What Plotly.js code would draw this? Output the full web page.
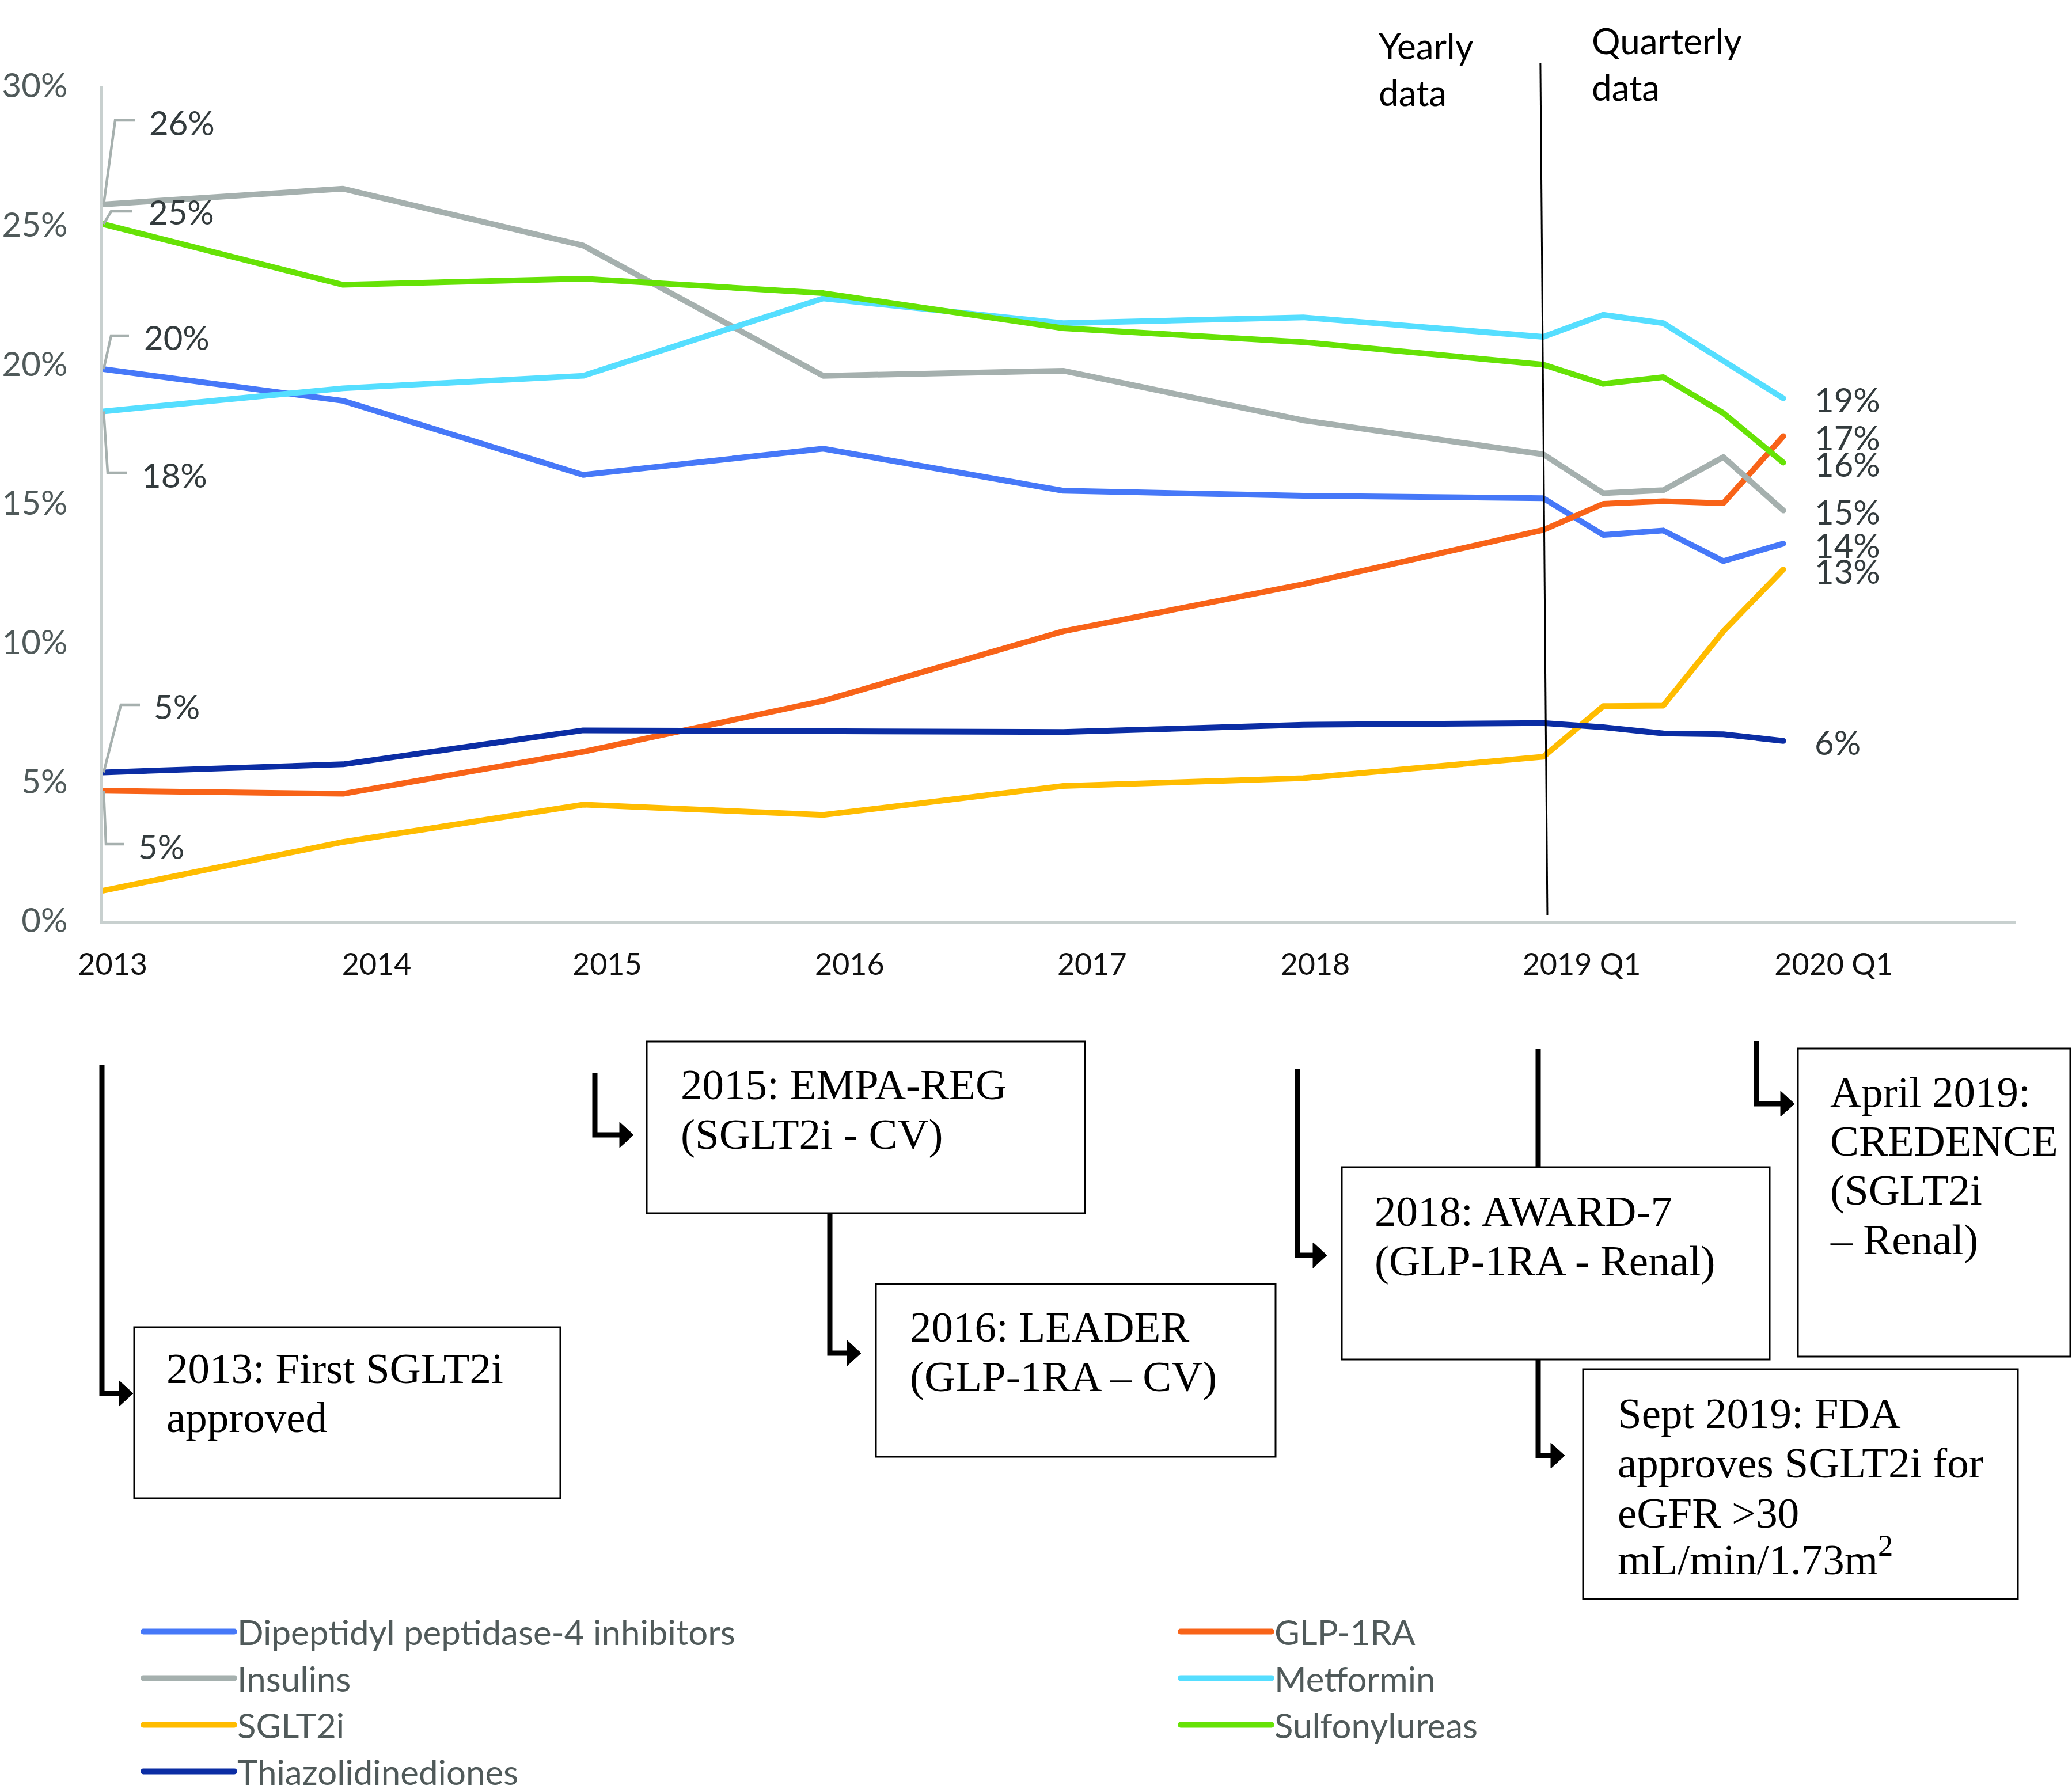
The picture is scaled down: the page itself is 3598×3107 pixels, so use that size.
<!DOCTYPE html>
<html><head><meta charset="utf-8">
<script src="https://cdn.plot.ly/plotly-3.0.1.min.js"></script>
<style>
html,body{margin:0;padding:0;background:#fff}
path.js-line{stroke-linecap:round;stroke-linejoin:round}
.legendlines path{stroke-width:10px !important;stroke-linecap:round}
</style>
</head><body>
<div id="chart" style="width:3598px;height:3107px"></div>
<script>
// ---------------- DATA ----------------
const xValues = [2013, 2014, 2015, 2016, 2017, 2018, 2019, 2019.25, 2019.5, 2019.75, 2020];
const xTickPositions = [2013.04, 2014.14, 2015.10, 2016.11, 2017.12, 2018.05, 2019.16, 2020.21];
const xTickLabels = ['2013', '2014', '2015', '2016', '2017', '2018', '2019 Q1', '2020 Q1'];
const yTickValues = [0, 5, 10, 15, 20, 25, 30];
const yTickLabels = ['0%', '5%', '10%', '15%', '20%', '25%', '30%'];

const dpp4 = [19.82, 18.68, 16.02, 16.96, 15.45, 15.27, 15.18, 13.86, 14.02, 12.92, 13.55];
const glp1ra = [4.67, 4.56, 6.07, 7.90, 10.40, 12.09, 14.04, 14.98, 15.07, 15.00, 17.41];
const insulins = [25.74, 26.30, 24.26, 19.58, 19.76, 17.98, 16.76, 15.36, 15.47, 16.66, 14.74];
const metformin = [18.30, 19.13, 19.58, 22.36, 21.47, 21.68, 20.98, 21.77, 21.47, 20.09, 18.77];
const sglt2i = [1.08, 2.83, 4.17, 3.80, 4.84, 5.12, 5.89, 7.71, 7.73, 10.40, 12.62];
const sulfonylureas = [25.03, 22.85, 23.07, 22.55, 21.29, 20.79, 19.98, 19.29, 19.53, 18.24, 16.46];
const thiazolidinediones = [5.33, 5.62, 6.84, 6.79, 6.78, 7.04, 7.10, 6.95, 6.73, 6.70, 6.46];

const seriesNames = ['Dipeptidyl peptidase-4 inhibitors', 'GLP-1RA', 'Insulins', 'Metformin', 'SGLT2i', 'Sulfonylureas', 'Thiazolidinediones'];
const seriesValues = [dpp4, glp1ra, insulins, metformin, sglt2i, sulfonylureas, thiazolidinediones];
const seriesColors = ['#4678F8', '#F86318', '#A5B0AE', '#55DEFF', '#FFBC00', '#66E206', '#0B2DA4'];
const seriesLegend = ['legend', 'legend2', 'legend', 'legend2', 'legend', 'legend2', 'legend'];

const periodLabels = ['Yearly<br>data', 'Quarterly<br>data'];

const milestoneText = [
  ['2013: First SGLT2i', 'approved'],
  ['2015: EMPA-REG', '(SGLT2i - CV)'],
  ['2016: LEADER', '(GLP-1RA \u2013 CV)'],
  ['2018: AWARD-7', '(GLP-1RA - Renal)'],
  ['April 2019:', 'CREDENCE', '(SGLT2i', '\u2013 Renal)'],
  ['Sept 2019: FDA', 'approves SGLT2i for', 'eGFR >30', 'mL/min/1.73m<sup>2</sup>']
];

// ---------------- GEOMETRY (pixels) ----------------
const W = 3598, H = 3107;
const PL = 179, PT = 149, PR = 3501, PB = 1599;
const PW = PR - PL, PH = PB - PT;
const px = X => (X - PL) / PW;
const py = Y => (PB - Y) / PH;
const Y_RANGE = [0, 30];
const X_RANGE = [2013, 2020.97];
const yPix = v => PB - (v - Y_RANGE[0]) / (Y_RANGE[1] - Y_RANGE[0]) * PH;

const sans = 'Lato, "Open Sans", sans-serif';
const serif = '"Liberation Serif", "Times New Roman", serif';

// traces
const traces = seriesNames.map((name, i) => ({
  type: 'scatter', mode: 'lines', name: name,
  x: xValues, y: seriesValues[i],
  line: {color: seriesColors[i], width: 10},
  legend: seriesLegend[i],
  hoverinfo: 'skip'
}));

const shapes = [];
const annotations = [];

// left-hand value labels with bent leader lines (2013 values)
const leftLabels = [
  {s: 2, bend: [200, 209], end: [234, 209], tx: 257, ty: 212},
  {s: 5, bend: [193, 367], end: [230, 367], tx: 256, ty: 368},
  {s: 0, bend: [193, 583], end: [224, 583], tx: 248, ty: 585},
  {s: 3, bend: [187, 821], end: [220, 821], tx: 244, ty: 824},
  {s: 6, bend: [210, 1224], end: [243, 1224], tx: 265, ty: 1226},
  {s: 1, bend: [184, 1466], end: [215, 1466], tx: 238, ty: 1469}
];
leftLabels.forEach(l => {
  const v = seriesValues[l.s][0];
  const y0 = yPix(v);
  shapes.push({type: 'path', xref: 'paper', yref: 'paper', layer: 'above',
    path: `M${px(180)},${py(y0)} L${px(l.bend[0])},${py(l.bend[1])} L${px(l.end[0])},${py(l.end[1])}`,
    line: {color: '#A6B0AE', width: 4.5}});
  annotations.push({xref: 'paper', yref: 'paper', x: px(l.tx), y: py(l.ty), xanchor: 'left', yanchor: 'middle',
    text: Math.round(v) + '%', showarrow: false, font: {family: sans, size: 58, color: '#333B3D'}});
});

// right-hand end labels
seriesValues.forEach((vals, i) => {
  const v = vals[vals.length - 1];
  annotations.push({xref: 'x', yref: 'y', x: xValues[xValues.length - 1], y: v, xanchor: 'left', yanchor: 'middle',
    xshift: 52, yshift: -2, text: Math.round(v) + '%', showarrow: false, font: {family: sans, size: 58, color: '#333B3D'}});
});

// Yearly / quarterly divider
shapes.push({type: 'line', xref: 'x', yref: 'paper', x0: 2018.988, x1: 2019.017, y0: py(110), y1: py(1589),
  line: {color: '#000', width: 3}, layer: 'above'});
annotations.push({xref: 'paper', yref: 'paper', x: px(2392), y: py(40), xanchor: 'left', yanchor: 'top', align: 'left',
  text: periodLabels[0], showarrow: false, font: {family: sans, size: 62, color: '#000'}});
annotations.push({xref: 'paper', yref: 'paper', x: px(2762), y: py(31), xanchor: 'left', yanchor: 'top', align: 'left',
  text: periodLabels[1], showarrow: false, font: {family: sans, size: 62, color: '#000'}});

// milestone boxes
const boxes = [
  {x0: 233, y0: 2305, x1: 973, y1: 2602, tx: 287, ty: [2376, 2461]},
  {x0: 1123, y0: 1809, x1: 1884, y1: 2107, tx: 1180, ty: [1883, 1969]},
  {x0: 1521, y0: 2230, x1: 2215, y1: 2530, tx: 1578, ty: [2304, 2390]},
  {x0: 2330, y0: 2027, x1: 3073, y1: 2361, tx: 2385, ty: [2103, 2189]},
  {x0: 3122, y0: 1821, x1: 3595, y1: 2356, tx: 3176, ty: [1896, 1981, 2066, 2152]},
  {x0: 2749, y0: 2378, x1: 3504, y1: 2777, tx: 2807, ty: [2454, 2540, 2627, 2703]}
];
boxes.forEach((b, i) => {
  shapes.push({type: 'rect', xref: 'paper', yref: 'paper', x0: px(b.x0), x1: px(b.x1), y0: py(b.y0), y1: py(b.y1),
    line: {color: '#000', width: 3}, fillcolor: 'rgba(0,0,0,0)'});
  milestoneText[i].forEach((t, j) => {
    annotations.push({xref: 'paper', yref: 'paper', x: px(b.tx), y: py(b.ty[j]), xanchor: 'left', yanchor: 'middle',
      text: t, showarrow: false, font: {family: serif, size: 75, color: '#000'}});
  });
});

// connectors
const connectors = [
  {pts: [[177, 1849], [177, 2420], [212, 2420]], tip: [231, 2420]},
  {pts: [[1033, 1864], [1033, 1971], [1080, 1971]], tip: [1100, 1971]},
  {pts: [[1441, 2107], [1441, 2350], [1475, 2350]], tip: [1495, 2350]},
  {pts: [[2253, 1856], [2253, 2180], [2284, 2180]], tip: [2304, 2180]},
  {pts: [[2671, 1821], [2671, 2027]], tip: null},
  {pts: [[2671, 2361], [2671, 2528], [2697, 2528]], tip: [2717, 2528]},
  {pts: [[3050, 1808], [3050, 1917], [3096, 1917]], tip: [3116, 1917]}
];
connectors.forEach(c => {
  shapes.push({type: 'path', xref: 'paper', yref: 'paper',
    path: 'M' + c.pts.map(p => `${px(p[0])},${py(p[1])}`).join(' L'),
    line: {color: '#000', width: 9}});
  if (c.tip) {
    const [tx, ty] = c.tip;
    shapes.push({type: 'path', xref: 'paper', yref: 'paper',
      path: `M${px(tx - 24)},${py(ty - 22)} L${px(tx)},${py(ty)} L${px(tx - 24)},${py(ty + 22)} Z`,
      line: {color: '#000', width: 1}, fillcolor: '#000'});
  }
});

const legendBase = {xref: 'container', yref: 'container', xanchor: 'left', yanchor: 'top',
  orientation: 'v', bgcolor: 'rgba(0,0,0,0)', itemwidth: 158, tracegroupgap: 0,
  font: {family: sans, size: 60, color: '#505A5A'}};

const layout = {
  width: W, height: H,
  margin: {l: PL, r: W - PR, t: PT, b: H - PB, autoexpand: false},
  paper_bgcolor: '#fff', plot_bgcolor: '#fff',
  showlegend: true,
  legend: Object.assign({}, legendBase, {x: 244 / W, y: 1 - 2788 / H}),
  legend2: Object.assign({}, legendBase, {x: 2045 / W, y: 1 - 2788 / H}),
  xaxis: {range: X_RANGE, showgrid: false, zeroline: false, showline: true, linecolor: '#C8D0CF', linewidth: 5,
    tickmode: 'array', tickvals: xTickPositions, ticktext: xTickLabels, ticks: '', ticklabelstandoff: 27,
    tickfont: {family: sans, size: 52, color: '#111'}},
  yaxis: {range: Y_RANGE, showgrid: false, zeroline: false, showline: true, linecolor: '#C8D0CF', linewidth: 5,
    tickmode: 'array', tickvals: yTickValues, ticktext: yTickLabels, ticks: '', ticklabelstandoff: 45,
    tickfont: {family: sans, size: 58, color: '#505A5A'}},
  shapes: shapes,
  annotations: annotations
};

Plotly.newPlot('chart', traces, layout, {staticPlot: true}).then(() => {
  document.querySelectorAll('#chart .legendlines path').forEach(p => {
    p.style.strokeWidth = '10px';
    p.style.strokeLinecap = 'round';
  });
});
</script>
</body></html>
